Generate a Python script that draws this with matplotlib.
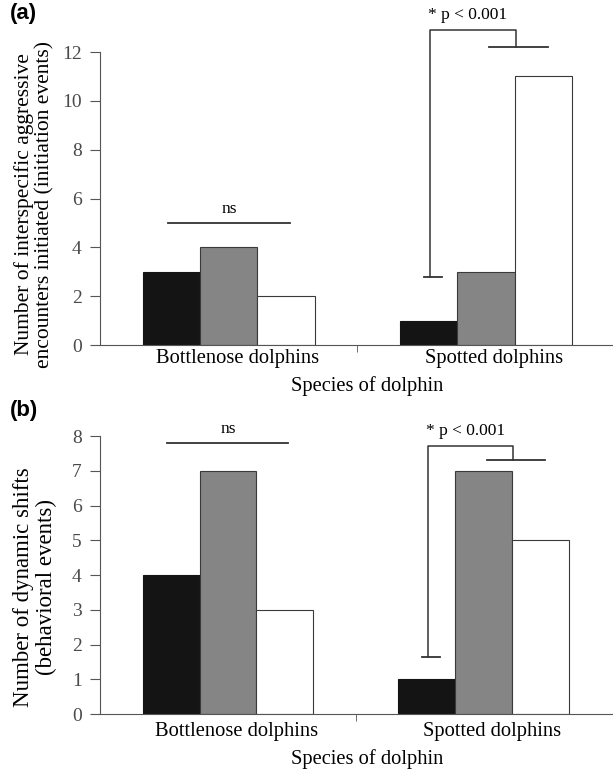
import matplotlib
matplotlib.use("Agg")
import matplotlib.pyplot as plt
import numpy as np

plt.rcParams['font.family'] = ['Liberation Serif', 'DejaVu Serif']

species = ["Bottlenose dolphins", "Spotted dolphins"]
# three bar series per species (black, grey, white)
a_black = [3, 1]
a_grey = [4, 3]
a_white = [2, 11]
b_black = [4, 1]
b_grey = [7, 7]
b_white = [3, 5]

a_ticks = [0, 2, 4, 6, 8, 10, 12]
b_ticks = [0, 1, 2, 3, 4, 5, 6, 7, 8]

ylab_a = "Number of interspecific aggressive\nencounters initiated (initiation events)"
ylab_b = "Number of dynamic shifts\n(behavioral events)"

fig = plt.figure(figsize=(6.13, 7.71), dpi=100)
ax1 = fig.add_axes([0.163, 0.5525, 0.837, 0.380])
ax2 = fig.add_axes([0.163, 0.0739, 0.837, 0.3606])

w = 0.222
x = np.arange(len(species))


def panel(ax, blk, gry, wht, ticks, ylab, ymax, xlim, ns_y, br, ysize, ycoords,
          xlab_y, xpad):
    ax.bar(x - w, blk, w, color='#141414', edgecolor='#141414', linewidth=0.8)
    ax.bar(x, gry, w, color='#858585', edgecolor='#3a3a3a', linewidth=0.8)
    ax.bar(x + w, wht, w, color='white', edgecolor='#3a3a3a', linewidth=0.8)
    ax.set_xlim(*xlim)
    ax.set_ylim(0, ymax)
    ax.spines['top'].set_visible(False)
    ax.spines['right'].set_visible(False)
    ax.spines['left'].set_color('#555555')
    ax.spines['bottom'].set_color('#555555')
    ax.set_yticks(ticks)
    ax.tick_params(axis='y', labelsize=14, labelcolor='#4a4a4a', color='#555555',
                   length=7, pad=6)
    ax.set_xticks(x + 0.032)
    ax.set_xticklabels(species, fontsize=14.8)
    ax.tick_params(axis='x', length=0, pad=xpad)
    ax.set_xticks([0.5], minor=True)
    ax.tick_params(axis='x', which='minor', length=5, color='#555555')
    ax.set_ylabel(ylab, fontsize=ysize, linespacing=1.12)
    ax.yaxis.set_label_coords(*ycoords)
    ax.set_xlabel("Species of dolphin", fontsize=14.8)
    ax.xaxis.set_label_coords(0.52, xlab_y)

    # ns line over bottlenose
    ax.plot([-0.237, 0.237], [ns_y, ns_y], color='#333333', lw=1.3, clip_on=False)
    ax.text(0, ns_y + ymax * 0.022, "ns", ha='center', va='bottom', fontsize=12.5)

    # significance bracket over spotted
    low, top, mid = br
    ax.plot([0.76, 0.83], [low, low], color='#333333', lw=1.3, clip_on=False)
    ax.plot([0.782, 0.782, 1.117, 1.117], [low, top, top, mid], color='#333333',
            lw=1.1, clip_on=False)
    ax.plot([1.012, 1.241], [mid, mid], color='#333333', lw=1.3, clip_on=False)
    ax.text(0.93, top + ymax * 0.025, "* p < 0.001", ha='center', va='bottom', fontsize=12.5)


panel(ax1, a_black, a_grey, a_white, a_ticks, ylab_a, 12, (-0.502, 1.494),
      5, (2.8, 12.9, 12.2), 15.5, (-0.088, 0.481), -0.107, 3)
panel(ax2, b_black, b_grey, b_white, b_ticks, ylab_b, 8, (-0.501, 1.507),
      7.8, (1.65, 7.7, 7.3), 16.5, (-0.083, 0.457), -0.126, 6)

fig.text(0.016, 0.983, "(a)", family='Liberation Sans', fontweight='bold',
         fontsize=16, va='center')
fig.text(0.016, 0.468, "(b)", family='Liberation Sans', fontweight='bold',
         fontsize=16, va='center')

fig.savefig("out.png", dpi=100)
